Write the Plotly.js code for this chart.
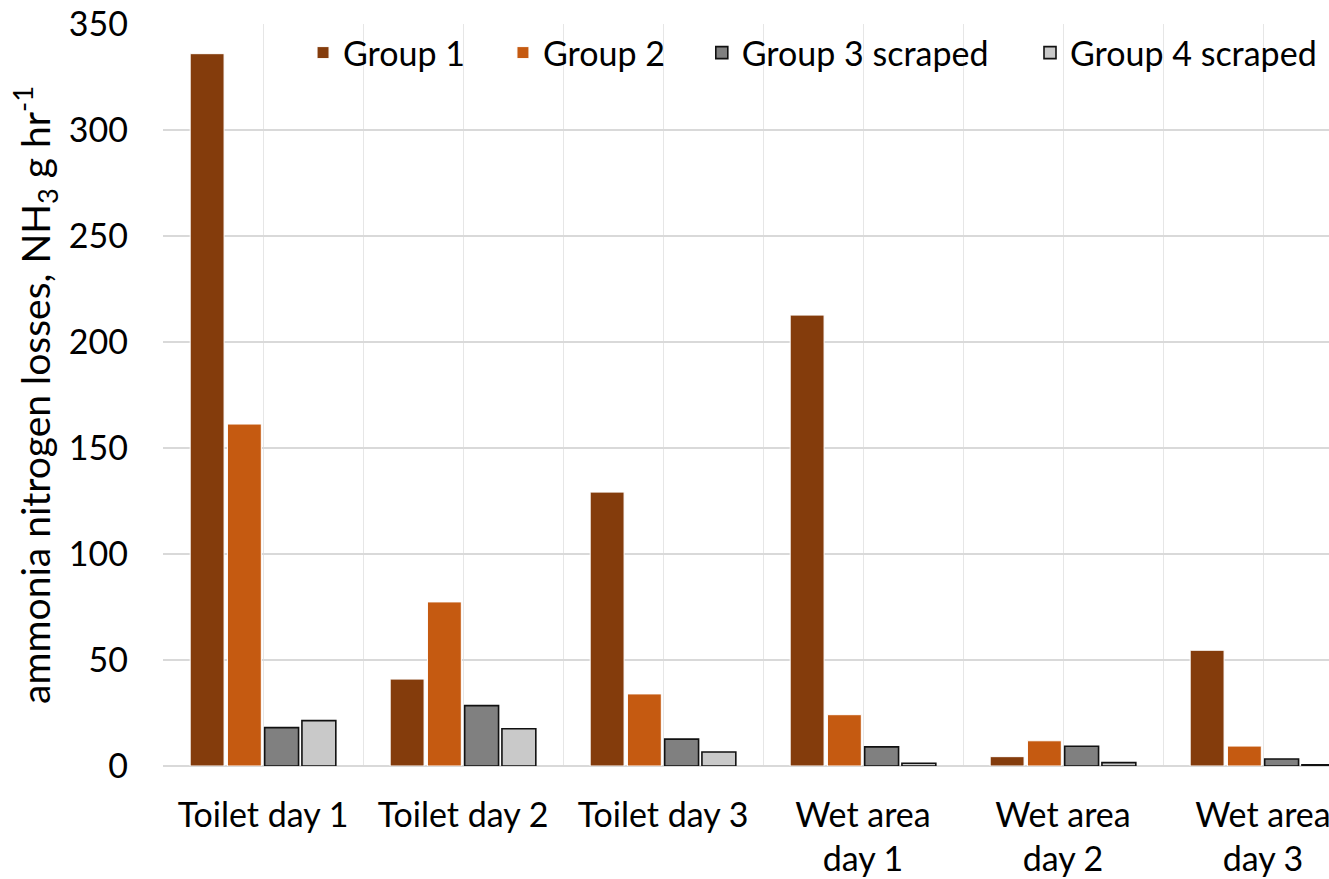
<!DOCTYPE html>
<html>
<head>
<meta charset="utf-8">
<script src="https://cdn.plot.ly/plotly-3.0.1.min.js"></script>
<style>
html,body{margin:0;padding:0;overflow:hidden;background:#fff;width:1329px;height:879px;}
#chart{width:1400px;height:879px;}
</style>
</head>
<body>
<div id="chart"></div>
<script>
const categories = ["Toilet day 1", "Toilet day 2", "Toilet day 3", "Wet area<br>day 1", "Wet area<br>day 2", "Wet area<br>day 3"];
const seriesNames = ["Group 1", "Group 2", "Group 3 scraped", "Group 4 scraped"];
const group1 = [336, 41, 129.2, 212.7, 4.4, 54.6];
const group2 = [161.3, 77.4, 34, 24.2, 11.9, 9.4];
const group3 = [18.1, 28.5, 12.7, 9.0, 9.3, 3.3];
const group4 = [21.4, 17.6, 6.6, 1.3, 1.6, 0.6];
const yTicks = [0, 50, 100, 150, 200, 250, 300, 350];

const xIdx = categories.map((_, i) => i);
const FONT = "Lato, 'Open Sans', sans-serif";

const styles = [
  {color: "#843C0C", line: {color: "#ffffff", width: 1}},
  {color: "#C55A11", line: {color: "#ffffff", width: 1}},
  {color: "#808080", line: {color: "#111111", width: 1.6}},
  {color: "#C9C9C9", line: {color: "#111111", width: 1.6}}
];
const legendIds = ["legend", "legend2", "legend3", "legend4"];
const legendX = [0.1167, 0.2833, 0.449, 0.7225];
const allSeries = [group1, group2, group3, group4];
const traces = allSeries.map((vals, k) => ({
  type: "bar",
  name: seriesNames[k],
  x: xIdx,
  y: vals,
  marker: styles[k],
  legend: legendIds[k],
  hoverinfo: "skip"
}));

const layout = {
  width: 1400,
  height: 879,
  margin: {l: 163, r: 37, t: 24, b: 113},
  paper_bgcolor: "#ffffff",
  plot_bgcolor: "#ffffff",
  font: {family: FONT, size: 34, color: "#000000"},
  barmode: "group",
  bargap: 0.255,
  bargroupgap: 0.09,
  showlegend: true,
  xaxis: {
    type: "linear",
    range: [-0.5, categories.length - 0.5],
    tickmode: "array",
    tickvals: xIdx,
    ticktext: categories,
    showgrid: true,
    gridcolor: "#e6e6e6",
    gridwidth: 1,
    minor: {
      tick0: -0.5,
      dtick: 1,
      showgrid: true,
      gridcolor: "#e6e6e6",
      gridwidth: 1,
      ticks: ""
    },
    zeroline: false,
    showline: false,
    ticks: "",
    ticklabelstandoff: 26,
    tickfont: {family: FONT, size: 34, color: "#000"},
    fixedrange: true
  },
  yaxis: {
    range: [0, 350],
    tickmode: "array",
    tickvals: yTicks,
    ticktext: yTicks.map(String),
    showgrid: true,
    gridcolor: "#d9d9d9",
    gridwidth: 1.5,
    zeroline: true,
    zerolinecolor: "#d9d9d9",
    zerolinewidth: 1.5,
    showline: false,
    ticks: "",
    ticklabelstandoff: 34,
    tickfont: {family: FONT, size: 34, color: "#000"},
    title: {
      text: "ammonia nitrogen losses, NH<sub>3</sub> g hr<sup>-1</sup>",
      font: {family: FONT, size: 39, color: "#000"},
      standoff: 6
    },
    fixedrange: true
  }
};
legendIds.forEach((id, k) => {
  layout[id] = {
    orientation: "h",
    x: legendX[k], y: 1.0, xanchor: "left", yanchor: "top",
    font: {family: FONT, size: 34, color: "#000"},
    bgcolor: "rgba(0,0,0,0)",
    itemwidth: 30
  };
});

Plotly.newPlot("chart", traces, layout, {displayModeBar: false, staticPlot: true});
</script>
</body>
</html>
